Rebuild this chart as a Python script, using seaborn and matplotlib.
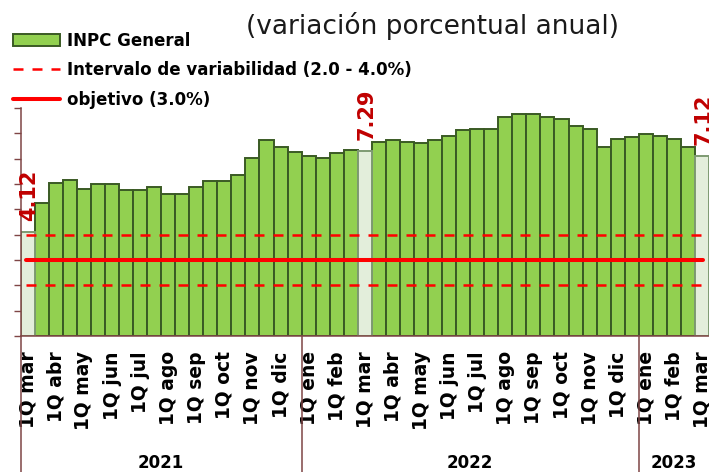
import matplotlib
matplotlib.use("Agg")
import matplotlib.pyplot as plt
from matplotlib.lines import Line2D
from matplotlib.patches import Patch
import pandas as pd
import seaborn as sns

# ---------------------------------------------------------------- datos
meses = ["ene", "feb", "mar", "abr", "may", "jun",
         "jul", "ago", "sep", "oct", "nov", "dic"]

# INPC general, variacion anual por quincena (1Q mar 2021 .. 1Q mar 2023)
inpc = [4.12, 5.24, 6.05, 6.15, 5.80, 6.00, 6.00, 5.76, 5.76, 5.87,
        5.59, 5.62, 5.87, 6.13, 6.13, 6.34, 7.04, 7.72, 7.46, 7.25,
        7.12, 7.04, 7.21, 7.33, 7.29, 7.65, 7.72, 7.65, 7.61, 7.72,
        7.90, 8.12, 8.16, 8.16, 8.63, 8.76, 8.76, 8.63, 8.55, 8.29,
        8.16, 7.47, 7.78, 7.87, 7.96, 7.91, 7.78, 7.47, 7.12]

resaltados = ["1Q mar 2021", "1Q mar 2022", "1Q mar 2023"]
anios = ["2021", "2022", "2023"]

objetivo = 3.0
intervalo = [2.0, 4.0]

titulo = "(variación porcentual anual)"
ley_inpc = "INPC General"
ley_intervalo = "Intervalo de variabilidad (2.0 - 4.0%)"
ley_objetivo = "objetivo (3.0%)"

# quincenas desde marzo 2021
periodos = []
for k in range(2, 27):
    for q in ("1Q", "2Q"):
        periodos.append(f"{q} {meses[k % 12]} {2021 + k // 12}")
periodos = periodos[:len(inpc)]

df = pd.DataFrame({
    "periodo": periodos,
    "inpc": inpc,
    "tipo": ["resaltado" if p in resaltados else "normal" for p in periodos],
})

# ---------------------------------------------------------------- estilo
sns.set_style("white")
plt.rcParams["font.family"] = ["DejaVu Sans"]
plt.rcParams["text.color"] = "black"
plt.rcParams["xtick.labelcolor"] = "black"

VERDE = "#92D050"
VERDE_BORDE = "#3A5A24"
CLARO = "#E3EEDB"
CLARO_BORDE = "#7E9A72"
ROJO = "#FF0000"
ROJO_OSC = "#C00000"
CAFE = "#7F4545"

fig = plt.figure(figsize=(7.09, 4.72), dpi=100)
ax = fig.add_axes([20.7 / 709, 136 / 472, (709 - 20.7) / 709, 228 / 472])

sns.barplot(data=df, x="periodo", y="inpc", hue="tipo",
            hue_order=["normal", "resaltado"],
            palette={"normal": VERDE, "resaltado": CLARO},
            dodge=False, width=1.0, saturation=1, legend=False, ax=ax)

for cont, borde in zip(ax.containers, [VERDE_BORDE, CLARO_BORDE]):
    for barra in cont:
        barra.set_edgecolor(borde)
        barra.set_linewidth(1.4)

# etiquetas sobre las barras resaltadas
for p in resaltados:
    i = periodos.index(p)
    ax.annotate(f"{inpc[i]:.2f}", (i, inpc[i]), xytext=(1, 8),
                textcoords="offset points", rotation=90,
                ha="center", va="bottom", color=ROJO_OSC,
                fontsize=15, fontweight="bold", annotation_clip=False)

# objetivo e intervalo
x0, x1 = -0.12, len(inpc) - 1 + 0.06
for v in intervalo:
    ax.plot([x0, x1], [v, v], color=ROJO, lw=1.8, dashes=(4, 3.6), zorder=5)
ax.plot([x0, x1], [objetivo, objetivo], color=ROJO, lw=2.9, zorder=5)

ax.set_xlim(-0.5, len(inpc) - 0.5)
ax.set_ylim(0, 9)
ax.set_yticks(range(0, 10))
ax.set_yticklabels([])
ax.tick_params(axis="y", direction="out", length=5, width=1, color=CAFE, left=True)

ax.set_xticks(range(0, len(inpc), 2))
ax.set_xticklabels([p.rsplit(" ", 1)[0] for p in periodos[::2]],
                   rotation=90, fontsize=13.5, fontweight="bold")
ax.tick_params(axis="x", length=0, pad=11)
ax.set_xlabel("")
ax.set_ylabel("")

for s in ["top", "right"]:
    ax.spines[s].set_visible(False)
for s in ["left", "bottom"]:
    ax.spines[s].set_color(CAFE)
    ax.spines[s].set_linewidth(1.1)

# separadores y etiquetas de año
trans = ax.get_xaxis_transform()
for a in anios:
    idx = [i for i, p in enumerate(periodos) if p.endswith(a)]
    ax.add_line(Line2D([idx[0] - 0.5, idx[0] - 0.5], [0, -0.6], transform=trans,
                       color=CAFE, lw=1.1, clip_on=False))
    ax.text((idx[0] + idx[-1]) / 2, -0.557, a, transform=trans, ha="center",
            va="center", fontsize=12, fontweight="bold")

# texto rojo recortado en el borde izquierdo
fig.text(-7 / 709, 1 - 258 / 472, "2.0  3.0  4.0", rotation=90, color=ROJO,
         ha="center", va="center", fontsize=13, fontweight="bold")

fig.text(432 / 709, 1 - 26 / 472, titulo, ha="center", va="center",
         fontsize=19, color="#1a1a1a")

handles = [
    Patch(facecolor=VERDE, edgecolor=VERDE_BORDE, linewidth=1.4),
    Line2D([], [], color=ROJO, lw=1.8, dashes=(4, 3.6)),
    Line2D([], [], color=ROJO, lw=2.9),
]
leg = fig.legend(handles, [ley_inpc, ley_intervalo, ley_objetivo],
                 loc="upper left", bbox_to_anchor=(13 / 709, 1 - 32 / 472),
                 frameon=False, borderpad=0, borderaxespad=0,
                 handlelength=2.8, handleheight=0.7, handletextpad=0.42,
                 labelspacing=0.68, prop={"size": 12, "weight": "bold"})

fig.savefig("out.png", dpi=100)
